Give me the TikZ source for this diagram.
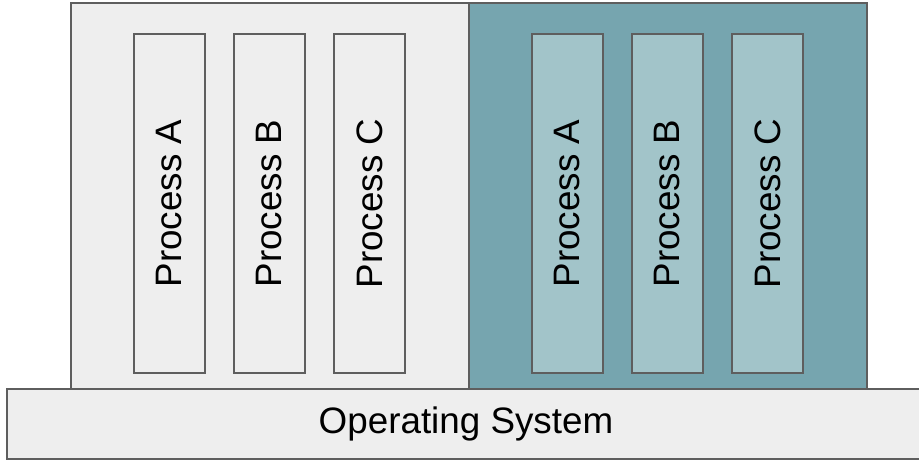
\documentclass[tikz,border=0pt]{standalone}
\usepackage{fontspec}
\setmainfont{Liberation Sans}
\usetikzlibrary{positioning}
\definecolor{osgray}{HTML}{EEEEEE}
\definecolor{boxline}{HTML}{5E5E5E}
\definecolor{darkteal}{HTML}{76A5AF}
\definecolor{lightteal}{HTML}{A2C4C9}

\begin{document}
\begin{tikzpicture}[x=0.75pt,y=-0.75pt,
    frame/.style={draw=boxline,line width=1.6pt,inner sep=0pt,font=\fontsize{27.6}{32}\selectfont},
    machine/.style={frame,minimum width=298.5pt,minimum height=289.5pt},
    proc/.style={frame,rotate=90,minimum width=254.25pt,minimum height=53.25pt}]

        % Khung ảnh
        \clip (0,0) rectangle (919,461);
        \useasboundingbox (0,0) rectangle (919,461);

        % Hai khối bên trên
        \node[machine,fill=osgray] (left) at (270,196) {};
        \node[machine,fill=darkteal] (right) at (668,196) {};

        % Các tiến trình bên trái
        \node[proc,fill=osgray] (la) at (169.5,203.5) {Process A};
        \node[proc,fill=osgray] (lb) at (269.5,203.5) {Process B};
        \node[proc,fill=osgray] (lc) at (369.5,203.5) {Process C};

        % Các tiến trình bên phải
        \node[proc,fill=lightteal] (ra) at (567.5,203.5) {Process A};
        \node[proc,fill=lightteal] (rb) at (667.5,203.5) {Process B};
        \node[proc,fill=lightteal] (rc) at (767.5,203.5) {Process C};

        % Hệ điều hành
        \node[frame,fill=osgray,minimum width=688.5pt,minimum height=52.5pt] (os) at (466,424) {Operating System};

\end{tikzpicture}
\end{document}
